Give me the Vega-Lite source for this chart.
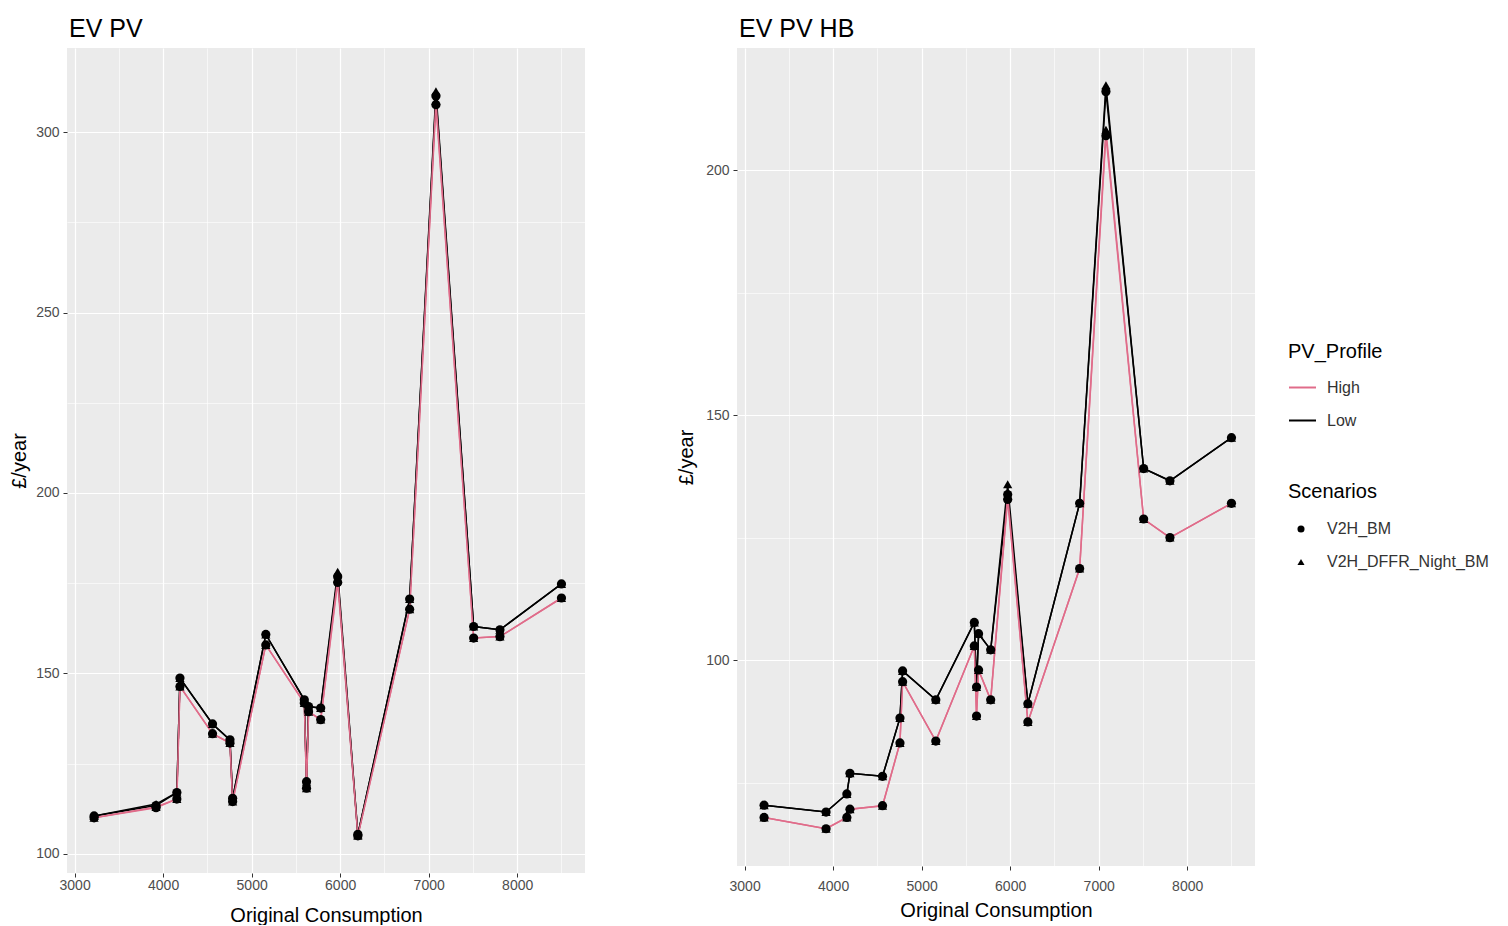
{
  "$schema": "https://vega.github.io/schema/vega-lite/v6.json",
  "padding": {"left": 9, "top": 17, "right": 0, "bottom": 0},
  "background": "white",
  "config": {
    "view": {"fill": "#EBEBEB", "stroke": null},
    "font": "Liberation Sans",
    "axis": {
      "domain": false,
      "tickColor": "#333333",
      "tickSize": 4,
      "labelColor": "#4D4D4D",
      "labelFont": "Liberation Sans",
      "labelFontSize": 14,
      "titleFont": "Liberation Sans",
      "titleFontSize": 20,
      "titleFontWeight": "normal",
      "titleColor": "black",
      "gridColor": "white"
    },
    "axisY": {"labelPadding": 4},
    "legend": {
      "titleFont": "Liberation Sans",
      "titleFontSize": 20,
      "titleFontWeight": "normal",
      "titleColor": "black",
      "labelFont": "Liberation Sans",
      "labelFontSize": 16,
      "labelColor": "#333333",
      "labelLimit": 400
    },
    "title": {"font": "Liberation Sans", "fontSize": 25, "fontWeight": "normal", "anchor": "start", "frame": "group", "color": "black", "dx": 2, "offset": 6}
  },
  "datasets": {
    "left": [
      {"consumption": 3220, "profile": "Low", "scenario": "V2H_BM", "value": 110.5},
      {"consumption": 3220, "profile": "High", "scenario": "V2H_BM", "value": 110.0},
      {"consumption": 3220, "profile": "Low", "scenario": "V2H_DFFR_Night_BM", "value": 110.5},
      {"consumption": 3220, "profile": "High", "scenario": "V2H_DFFR_Night_BM", "value": 110.0},
      {"consumption": 3920, "profile": "Low", "scenario": "V2H_BM", "value": 113.4},
      {"consumption": 3920, "profile": "High", "scenario": "V2H_BM", "value": 112.8},
      {"consumption": 3920, "profile": "Low", "scenario": "V2H_DFFR_Night_BM", "value": 113.8},
      {"consumption": 3920, "profile": "High", "scenario": "V2H_DFFR_Night_BM", "value": 113.0},
      {"consumption": 4155, "profile": "Low", "scenario": "V2H_BM", "value": 117.0},
      {"consumption": 4155, "profile": "High", "scenario": "V2H_BM", "value": 115.2},
      {"consumption": 4155, "profile": "Low", "scenario": "V2H_DFFR_Night_BM", "value": 117.0},
      {"consumption": 4155, "profile": "High", "scenario": "V2H_DFFR_Night_BM", "value": 115.2},
      {"consumption": 4190, "profile": "Low", "scenario": "V2H_BM", "value": 148.7},
      {"consumption": 4190, "profile": "High", "scenario": "V2H_BM", "value": 146.4},
      {"consumption": 4190, "profile": "Low", "scenario": "V2H_DFFR_Night_BM", "value": 148.7},
      {"consumption": 4190, "profile": "High", "scenario": "V2H_DFFR_Night_BM", "value": 146.4},
      {"consumption": 4558, "profile": "Low", "scenario": "V2H_BM", "value": 136.0},
      {"consumption": 4558, "profile": "High", "scenario": "V2H_BM", "value": 133.3},
      {"consumption": 4558, "profile": "Low", "scenario": "V2H_DFFR_Night_BM", "value": 136.0},
      {"consumption": 4558, "profile": "High", "scenario": "V2H_DFFR_Night_BM", "value": 133.3},
      {"consumption": 4755, "profile": "Low", "scenario": "V2H_BM", "value": 131.6},
      {"consumption": 4755, "profile": "High", "scenario": "V2H_BM", "value": 130.7},
      {"consumption": 4755, "profile": "Low", "scenario": "V2H_DFFR_Night_BM", "value": 131.6},
      {"consumption": 4755, "profile": "High", "scenario": "V2H_DFFR_Night_BM", "value": 130.7},
      {"consumption": 4785, "profile": "Low", "scenario": "V2H_BM", "value": 115.4},
      {"consumption": 4785, "profile": "High", "scenario": "V2H_BM", "value": 114.5},
      {"consumption": 4785, "profile": "Low", "scenario": "V2H_DFFR_Night_BM", "value": 115.4},
      {"consumption": 4785, "profile": "High", "scenario": "V2H_DFFR_Night_BM", "value": 114.5},
      {"consumption": 5160, "profile": "Low", "scenario": "V2H_BM", "value": 160.8},
      {"consumption": 5160, "profile": "High", "scenario": "V2H_BM", "value": 157.9},
      {"consumption": 5160, "profile": "Low", "scenario": "V2H_DFFR_Night_BM", "value": 160.8},
      {"consumption": 5160, "profile": "High", "scenario": "V2H_DFFR_Night_BM", "value": 157.9},
      {"consumption": 5595, "profile": "Low", "scenario": "V2H_BM", "value": 142.7},
      {"consumption": 5595, "profile": "High", "scenario": "V2H_BM", "value": 141.8},
      {"consumption": 5595, "profile": "Low", "scenario": "V2H_DFFR_Night_BM", "value": 142.7},
      {"consumption": 5595, "profile": "High", "scenario": "V2H_DFFR_Night_BM", "value": 141.8},
      {"consumption": 5620, "profile": "Low", "scenario": "V2H_BM", "value": 120.0},
      {"consumption": 5620, "profile": "High", "scenario": "V2H_BM", "value": 118.2},
      {"consumption": 5620, "profile": "Low", "scenario": "V2H_DFFR_Night_BM", "value": 120.0},
      {"consumption": 5620, "profile": "High", "scenario": "V2H_DFFR_Night_BM", "value": 118.2},
      {"consumption": 5643, "profile": "Low", "scenario": "V2H_BM", "value": 140.8},
      {"consumption": 5643, "profile": "High", "scenario": "V2H_BM", "value": 139.4},
      {"consumption": 5643, "profile": "Low", "scenario": "V2H_DFFR_Night_BM", "value": 140.8},
      {"consumption": 5643, "profile": "High", "scenario": "V2H_DFFR_Night_BM", "value": 139.4},
      {"consumption": 5780, "profile": "Low", "scenario": "V2H_BM", "value": 140.4},
      {"consumption": 5780, "profile": "High", "scenario": "V2H_BM", "value": 137.2},
      {"consumption": 5780, "profile": "Low", "scenario": "V2H_DFFR_Night_BM", "value": 140.4},
      {"consumption": 5780, "profile": "High", "scenario": "V2H_DFFR_Night_BM", "value": 137.2},
      {"consumption": 5972, "profile": "Low", "scenario": "V2H_BM", "value": 176.8},
      {"consumption": 5972, "profile": "High", "scenario": "V2H_BM", "value": 175.2},
      {"consumption": 5972, "profile": "Low", "scenario": "V2H_DFFR_Night_BM", "value": 178.2},
      {"consumption": 5972, "profile": "High", "scenario": "V2H_DFFR_Night_BM", "value": 176.3},
      {"consumption": 6200, "profile": "Low", "scenario": "V2H_BM", "value": 105.4},
      {"consumption": 6200, "profile": "High", "scenario": "V2H_BM", "value": 105.0},
      {"consumption": 6200, "profile": "Low", "scenario": "V2H_DFFR_Night_BM", "value": 105.4},
      {"consumption": 6200, "profile": "High", "scenario": "V2H_DFFR_Night_BM", "value": 105.0},
      {"consumption": 6785, "profile": "Low", "scenario": "V2H_BM", "value": 170.6},
      {"consumption": 6785, "profile": "High", "scenario": "V2H_BM", "value": 167.8},
      {"consumption": 6785, "profile": "Low", "scenario": "V2H_DFFR_Night_BM", "value": 170.6},
      {"consumption": 6785, "profile": "High", "scenario": "V2H_DFFR_Night_BM", "value": 167.8},
      {"consumption": 7082, "profile": "Low", "scenario": "V2H_BM", "value": 310.0},
      {"consumption": 7082, "profile": "High", "scenario": "V2H_BM", "value": 307.6},
      {"consumption": 7082, "profile": "Low", "scenario": "V2H_DFFR_Night_BM", "value": 311.3},
      {"consumption": 7082, "profile": "High", "scenario": "V2H_DFFR_Night_BM", "value": 308.6},
      {"consumption": 7508, "profile": "Low", "scenario": "V2H_BM", "value": 163.0},
      {"consumption": 7508, "profile": "High", "scenario": "V2H_BM", "value": 159.8},
      {"consumption": 7508, "profile": "Low", "scenario": "V2H_DFFR_Night_BM", "value": 163.0},
      {"consumption": 7508, "profile": "High", "scenario": "V2H_DFFR_Night_BM", "value": 159.8},
      {"consumption": 7805, "profile": "Low", "scenario": "V2H_BM", "value": 162.1},
      {"consumption": 7805, "profile": "High", "scenario": "V2H_BM", "value": 160.2},
      {"consumption": 7805, "profile": "Low", "scenario": "V2H_DFFR_Night_BM", "value": 162.1},
      {"consumption": 7805, "profile": "High", "scenario": "V2H_DFFR_Night_BM", "value": 160.2},
      {"consumption": 8500, "profile": "Low", "scenario": "V2H_BM", "value": 174.8},
      {"consumption": 8500, "profile": "High", "scenario": "V2H_BM", "value": 170.9},
      {"consumption": 8500, "profile": "Low", "scenario": "V2H_DFFR_Night_BM", "value": 174.8},
      {"consumption": 8500, "profile": "High", "scenario": "V2H_DFFR_Night_BM", "value": 170.9}
    ],
    "right": [
      {"consumption": 3220, "profile": "Low", "scenario": "V2H_BM", "value": 70.4},
      {"consumption": 3220, "profile": "High", "scenario": "V2H_BM", "value": 67.9},
      {"consumption": 3220, "profile": "Low", "scenario": "V2H_DFFR_Night_BM", "value": 70.4},
      {"consumption": 3220, "profile": "High", "scenario": "V2H_DFFR_Night_BM", "value": 67.9},
      {"consumption": 3920, "profile": "Low", "scenario": "V2H_BM", "value": 69.0},
      {"consumption": 3920, "profile": "High", "scenario": "V2H_BM", "value": 65.6},
      {"consumption": 3920, "profile": "Low", "scenario": "V2H_DFFR_Night_BM", "value": 69.0},
      {"consumption": 3920, "profile": "High", "scenario": "V2H_DFFR_Night_BM", "value": 65.6},
      {"consumption": 4155, "profile": "Low", "scenario": "V2H_BM", "value": 72.7},
      {"consumption": 4155, "profile": "High", "scenario": "V2H_BM", "value": 67.9},
      {"consumption": 4155, "profile": "Low", "scenario": "V2H_DFFR_Night_BM", "value": 72.7},
      {"consumption": 4155, "profile": "High", "scenario": "V2H_DFFR_Night_BM", "value": 67.9},
      {"consumption": 4190, "profile": "Low", "scenario": "V2H_BM", "value": 76.9},
      {"consumption": 4190, "profile": "High", "scenario": "V2H_BM", "value": 69.6},
      {"consumption": 4190, "profile": "Low", "scenario": "V2H_DFFR_Night_BM", "value": 76.9},
      {"consumption": 4190, "profile": "High", "scenario": "V2H_DFFR_Night_BM", "value": 69.6},
      {"consumption": 4558, "profile": "Low", "scenario": "V2H_BM", "value": 76.3},
      {"consumption": 4558, "profile": "High", "scenario": "V2H_BM", "value": 70.3},
      {"consumption": 4558, "profile": "Low", "scenario": "V2H_DFFR_Night_BM", "value": 76.3},
      {"consumption": 4558, "profile": "High", "scenario": "V2H_DFFR_Night_BM", "value": 70.3},
      {"consumption": 4755, "profile": "Low", "scenario": "V2H_BM", "value": 88.2},
      {"consumption": 4755, "profile": "High", "scenario": "V2H_BM", "value": 83.1},
      {"consumption": 4755, "profile": "Low", "scenario": "V2H_DFFR_Night_BM", "value": 88.2},
      {"consumption": 4755, "profile": "High", "scenario": "V2H_DFFR_Night_BM", "value": 83.1},
      {"consumption": 4785, "profile": "Low", "scenario": "V2H_BM", "value": 97.8},
      {"consumption": 4785, "profile": "High", "scenario": "V2H_BM", "value": 95.6},
      {"consumption": 4785, "profile": "Low", "scenario": "V2H_DFFR_Night_BM", "value": 97.8},
      {"consumption": 4785, "profile": "High", "scenario": "V2H_DFFR_Night_BM", "value": 95.6},
      {"consumption": 5160, "profile": "Low", "scenario": "V2H_BM", "value": 91.9},
      {"consumption": 5160, "profile": "High", "scenario": "V2H_BM", "value": 83.5},
      {"consumption": 5160, "profile": "Low", "scenario": "V2H_DFFR_Night_BM", "value": 91.9},
      {"consumption": 5160, "profile": "High", "scenario": "V2H_DFFR_Night_BM", "value": 83.5},
      {"consumption": 5595, "profile": "Low", "scenario": "V2H_BM", "value": 107.7},
      {"consumption": 5595, "profile": "High", "scenario": "V2H_BM", "value": 102.9},
      {"consumption": 5595, "profile": "Low", "scenario": "V2H_DFFR_Night_BM", "value": 107.7},
      {"consumption": 5595, "profile": "High", "scenario": "V2H_DFFR_Night_BM", "value": 102.9},
      {"consumption": 5620, "profile": "Low", "scenario": "V2H_BM", "value": 94.5},
      {"consumption": 5620, "profile": "High", "scenario": "V2H_BM", "value": 88.6},
      {"consumption": 5620, "profile": "Low", "scenario": "V2H_DFFR_Night_BM", "value": 94.5},
      {"consumption": 5620, "profile": "High", "scenario": "V2H_DFFR_Night_BM", "value": 88.6},
      {"consumption": 5643, "profile": "Low", "scenario": "V2H_BM", "value": 105.4},
      {"consumption": 5643, "profile": "High", "scenario": "V2H_BM", "value": 98.0},
      {"consumption": 5643, "profile": "Low", "scenario": "V2H_DFFR_Night_BM", "value": 105.4},
      {"consumption": 5643, "profile": "High", "scenario": "V2H_DFFR_Night_BM", "value": 98.0},
      {"consumption": 5780, "profile": "Low", "scenario": "V2H_BM", "value": 102.1},
      {"consumption": 5780, "profile": "High", "scenario": "V2H_BM", "value": 91.9},
      {"consumption": 5780, "profile": "Low", "scenario": "V2H_DFFR_Night_BM", "value": 102.1},
      {"consumption": 5780, "profile": "High", "scenario": "V2H_DFFR_Night_BM", "value": 91.9},
      {"consumption": 5972, "profile": "Low", "scenario": "V2H_BM", "value": 133.8},
      {"consumption": 5972, "profile": "High", "scenario": "V2H_BM", "value": 132.8},
      {"consumption": 5972, "profile": "Low", "scenario": "V2H_DFFR_Night_BM", "value": 135.9},
      {"consumption": 5972, "profile": "High", "scenario": "V2H_DFFR_Night_BM", "value": 133.6},
      {"consumption": 6200, "profile": "Low", "scenario": "V2H_BM", "value": 91.1},
      {"consumption": 6200, "profile": "High", "scenario": "V2H_BM", "value": 87.4},
      {"consumption": 6200, "profile": "Low", "scenario": "V2H_DFFR_Night_BM", "value": 91.1},
      {"consumption": 6200, "profile": "High", "scenario": "V2H_DFFR_Night_BM", "value": 87.4},
      {"consumption": 6785, "profile": "Low", "scenario": "V2H_BM", "value": 132.0},
      {"consumption": 6785, "profile": "High", "scenario": "V2H_BM", "value": 118.7},
      {"consumption": 6785, "profile": "Low", "scenario": "V2H_DFFR_Night_BM", "value": 132.0},
      {"consumption": 6785, "profile": "High", "scenario": "V2H_DFFR_Night_BM", "value": 118.7},
      {"consumption": 7082, "profile": "Low", "scenario": "V2H_BM", "value": 216.0},
      {"consumption": 7082, "profile": "High", "scenario": "V2H_BM", "value": 207.0},
      {"consumption": 7082, "profile": "Low", "scenario": "V2H_DFFR_Night_BM", "value": 217.3},
      {"consumption": 7082, "profile": "High", "scenario": "V2H_DFFR_Night_BM", "value": 208.2},
      {"consumption": 7508, "profile": "Low", "scenario": "V2H_BM", "value": 139.1},
      {"consumption": 7508, "profile": "High", "scenario": "V2H_BM", "value": 128.8},
      {"consumption": 7508, "profile": "Low", "scenario": "V2H_DFFR_Night_BM", "value": 139.1},
      {"consumption": 7508, "profile": "High", "scenario": "V2H_DFFR_Night_BM", "value": 128.8},
      {"consumption": 7805, "profile": "Low", "scenario": "V2H_BM", "value": 136.6},
      {"consumption": 7805, "profile": "High", "scenario": "V2H_BM", "value": 125.0},
      {"consumption": 7805, "profile": "Low", "scenario": "V2H_DFFR_Night_BM", "value": 136.6},
      {"consumption": 7805, "profile": "High", "scenario": "V2H_DFFR_Night_BM", "value": 125.0},
      {"consumption": 8500, "profile": "Low", "scenario": "V2H_BM", "value": 145.4},
      {"consumption": 8500, "profile": "High", "scenario": "V2H_BM", "value": 132.0},
      {"consumption": 8500, "profile": "Low", "scenario": "V2H_DFFR_Night_BM", "value": 145.4},
      {"consumption": 8500, "profile": "High", "scenario": "V2H_DFFR_Night_BM", "value": 132.0}
    ]
  },
  "hconcat": [
    {
      "title": {"text": "EV PV"},
      "width": 518,
      "height": 825,
      "data": {"name": "left"},
      "encoding": {
        "x": {
          "field": "consumption", "type": "quantitative",
          "scale": {"domain": [2914, 8766], "nice": false, "zero": false},
          "axis": {
            "title": "Original Consumption",
            "values": [3000, 3500, 4000, 4500, 5000, 5500, 6000, 6500, 7000, 7500, 8000, 8500],
            "labelExpr": "datum.value % 1000 === 0 ? datum.label : ''",
            "format": "d",
            "labelPadding": 1,
            "titlePadding": 13,
            "tickOpacity": {"condition": {"test": "datum.value % 1000 === 0", "value": 1}, "value": 0},
            "gridWidth": {"condition": {"test": "datum.value % 1000 === 0", "value": 1.2}, "value": 0.6}
          }
        },
        "y": {
          "field": "value", "type": "quantitative",
          "scale": {"domain": [94.7, 323.3], "nice": false, "zero": false},
          "axis": {
            "title": "£/year",
            "values": [100, 125, 150, 175, 200, 225, 250, 275, 300],
            "labelExpr": "datum.value % 50 === 0 ? datum.label : ''",
            "tickOpacity": {"condition": {"test": "datum.value % 50 === 0", "value": 1}, "value": 0},
            "gridWidth": {"condition": {"test": "datum.value % 50 === 0", "value": 1.2}, "value": 0.6},
            "titlePadding": 6
          }
        }
      },
      "layer": [
        {
          "mark": {"type": "line", "strokeWidth": 1.5},
          "encoding": {
            "color": {"field": "profile", "type": "nominal", "scale": {"domain": ["High", "Low"], "range": ["#E06C8A", "#000000"]}, "legend": null},
            "detail": {"field": "scenario", "type": "nominal"}
          }
        },
        {
          "mark": {"type": "point", "filled": true, "opacity": 1, "size": 85, "color": "black"},
          "encoding": {
            "shape": {"field": "scenario", "type": "nominal", "scale": {"domain": ["V2H_BM", "V2H_DFFR_Night_BM"], "range": ["circle", "triangle-up"]}, "legend": null}
          }
        }
      ]
    },
    {
      "title": {"text": "EV PV HB"},
      "width": 518,
      "height": 818,
      "data": {"name": "right"},
      "encoding": {
        "x": {
          "field": "consumption", "type": "quantitative",
          "scale": {"domain": [2914, 8766], "nice": false, "zero": false},
          "axis": {
            "title": "Original Consumption",
            "values": [3000, 3500, 4000, 4500, 5000, 5500, 6000, 6500, 7000, 7500, 8000, 8500],
            "labelExpr": "datum.value % 1000 === 0 ? datum.label : ''",
            "format": "d",
            "labelPadding": 9,
            "titlePadding": 7,
            "tickOpacity": {"condition": {"test": "datum.value % 1000 === 0", "value": 1}, "value": 0},
            "gridWidth": {"condition": {"test": "datum.value % 1000 === 0", "value": 1.2}, "value": 0.6}
          }
        },
        "y": {
          "field": "value", "type": "quantitative",
          "scale": {"domain": [58.0, 224.9], "nice": false, "zero": false},
          "axis": {
            "title": "£/year",
            "values": [75, 100, 125, 150, 175, 200],
            "labelExpr": "datum.value % 50 === 0 ? datum.label : ''",
            "tickOpacity": {"condition": {"test": "datum.value % 50 === 0", "value": 1}, "value": 0},
            "gridWidth": {"condition": {"test": "datum.value % 50 === 0", "value": 1.2}, "value": 0.6},
            "titlePadding": 9
          }
        }
      },
      "layer": [
        {
          "mark": {"type": "line", "strokeWidth": 1.5},
          "encoding": {
            "color": {
              "field": "profile", "type": "nominal",
              "scale": {"domain": ["High", "Low"], "range": ["#E06C8A", "#000000"]},
              "legend": {"title": "PV_Profile", "orient": "none", "legendX": 551, "legendY": 294, "symbolType": "stroke", "symbolStrokeWidth": 2, "symbolSize": 729, "labelOffset": 10, "rowPadding": 10, "titlePadding": 11}
            },
            "detail": {"field": "scenario", "type": "nominal"}
          }
        },
        {
          "mark": {"type": "point", "filled": true, "opacity": 1, "size": 85, "color": "black"},
          "encoding": {
            "shape": {
              "field": "scenario", "type": "nominal",
              "scale": {"domain": ["V2H_BM", "V2H_DFFR_Night_BM"], "range": ["circle", "triangle-up"]},
              "legend": {"title": "Scenarios", "orient": "none", "legendX": 551, "legendY": 434, "symbolFillColor": "black", "symbolStrokeColor": "black", "symbolSize": 50, "symbolOffset": 5, "labelOffset": 18, "rowPadding": 17, "titlePadding": 19}
            }
          }
        }
      ]
    }
  ],
  "spacing": 91,
  "resolve": {"scale": {"x": "independent", "y": "independent", "color": "independent", "shape": "independent"}}
}
